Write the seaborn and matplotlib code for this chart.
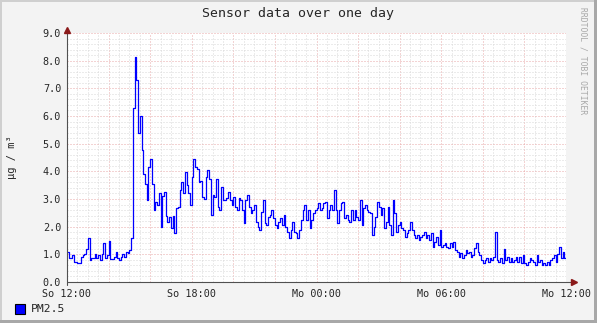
import numpy as np
import pandas as pd
import matplotlib
matplotlib.use("Agg")
import matplotlib.pyplot as plt
import seaborn as sns
from matplotlib.patches import Rectangle
from matplotlib.ticker import MultipleLocator, FormatStrFormatter

# PM2.5 in ug/m3, one value every 5 minutes from Sunday 12:00
pm25_a = [1.1, 0.85, 0.85, 0.97, 0.73, 0.72, 0.68, 0.67, 0.9, 0.97, 1.03, 1.2, 1.58,
          0.8, 0.85, 0.85, 1.03, 0.85, 0.97, 0.8, 1.03, 1.4, 0.85, 0.97, 1.5, 0.82,
          0.82, 0.9, 1.1, 0.85, 0.8, 0.9, 1.03, 0.9, 1.1, 1.06, 1.15]
pm25_b = [1.6, 6.3, 8.15, 7.3, 5.4, 6.0, 4.77, 3.9, 3.56, 2.96, 4.16, 4.46, 3.56,
          2.6, 2.9, 2.8, 3.2, 2.0, 3.1, 3.26, 2.4, 2.18, 2.36, 1.94, 2.4, 1.76, 2.66]
pm25_c = [2.72, 3.32, 3.6, 3.2, 3.98, 3.5, 3.2, 2.78, 3.8, 4.46, 4.16, 4.1, 3.6,
          3.65, 3.08, 3.0, 3.8, 4.04, 3.74, 2.42, 3.14, 3.08, 3.74, 2.72, 2.6, 3.44,
          2.96, 2.96, 3.02, 3.26, 2.96, 2.78, 3.08, 2.72, 2.6, 3.02, 2.96, 2.6, 2.12,
          2.96, 3.14, 2.72, 2.48, 2.6]
pm25_d = [2.78, 2.18, 2.0, 1.88, 2.54, 2.96, 2.12, 2.06, 2.36, 2.42, 2.6, 2.3, 2.06,
          1.94, 2.18, 2.3, 2.06, 2.42, 2.0, 1.82, 1.58, 1.88, 2.18, 1.82, 1.76, 1.58,
          1.88, 2.24, 2.6, 2.78, 2.24, 2.6, 1.94, 2.24, 2.48, 2.6, 2.66, 2.84, 2.6,
          2.66, 2.84, 2.9, 2.3]
pm25_e = [2.6, 2.78, 2.6, 3.32, 2.6, 2.12, 2.6, 2.84, 2.9, 2.3, 2.42, 2.24, 2.18,
          2.6, 2.24, 2.6, 2.36, 2.24, 2.96, 2.06, 2.66, 2.78, 2.6, 2.54, 2.48, 1.7,
          2.0, 2.36, 2.9, 2.72, 2.42, 2.66, 1.94, 2.18, 2.72, 2.06, 1.7, 2.96, 2.48,
          1.82, 2.06, 2.18, 1.94]
pm25_f = [1.88, 1.64, 1.76, 1.88, 2.18, 1.88, 1.7, 1.58, 1.7, 1.52, 1.64, 1.7, 1.82,
          1.58, 1.7, 1.52, 1.76, 1.28, 1.46, 1.64, 1.34, 1.88, 1.28, 1.34, 1.4, 1.28,
          1.22, 1.4, 1.28, 1.46, 1.16, 1.1, 0.91, 1.04, 0.85, 0.97, 1.16, 1.04, 1.1,
          0.91, 0.97, 1.22, 1.4, 1.1, 0.97, 0.8]
pm25_g = [0.67, 0.79, 0.85, 0.73, 0.85, 0.79, 0.9, 1.8, 0.79, 0.73, 0.85, 0.67, 1.2,
          0.79, 0.9, 0.73, 0.85, 0.73, 0.79, 0.9, 0.73, 0.9, 0.67, 0.97, 0.67, 0.61,
          0.73, 0.85, 0.79, 0.73, 0.61, 0.97, 0.73, 0.79, 0.61, 0.67, 0.61, 0.73,
          0.61, 0.79, 0.85, 0.97, 0.73, 1.03, 1.28, 0.85, 1.1, 0.85, 0.89]
pm25 = pm25_a + pm25_b + pm25_c + pm25_d + pm25_e + pm25_f + pm25_g
hours = np.arange(len(pm25)) * 5 / 60

day_ticks = [0, 6, 12, 18, 24]
day_labels = ["So 12:00", "So 18:00", "Mo 00:00", "Mo 06:00", "Mo 12:00"]

W, H = 597, 323
sns.set_style("white")
plt.rcParams["font.family"] = ["DejaVu Sans Mono"]

fig = plt.figure(figsize=(W / 100, H / 100), dpi=100)
fig.patch.set_facecolor("#F3F3F3")
ax = fig.add_axes([67 / W, (H - 282) / H, 499 / W, 249 / H])
ax.set_facecolor("white")

df = pd.DataFrame({"hours": hours, "pm25": pm25})
sns.lineplot(data=df, x="hours", y="pm25", ax=ax, estimator=None, color="#0000FF",
             lw=0.9, drawstyle="steps-post", zorder=5)

ax.set_xlim(0, 24)
ax.set_ylim(0, 9)
ax.xaxis.set_major_locator(MultipleLocator(2))
ax.xaxis.set_minor_locator(MultipleLocator(0.5))
ax.set_xticklabels([day_labels[day_ticks.index(t)] if t in day_ticks else ""
                    for t in ax.get_xticks()])
ax.yaxis.set_major_locator(MultipleLocator(1))
ax.yaxis.set_minor_locator(MultipleLocator(0.2))
ax.yaxis.set_major_formatter(FormatStrFormatter("%.1f"))
ax.set_xlim(0, 24)
ax.set_ylim(0, 9)
ax.set_xlabel("")
ax.set_ylabel("")

dots = (0, (1, 2))
ax.grid(which="minor", color="#D9D9D9", lw=0.72, linestyle=dots)
ax.grid(which="major", color="#E9A9A9", lw=0.72, linestyle=dots)
ax.tick_params(which="major", direction="out", length=2.2, width=0.72,
               color="#D07070", labelsize=7.3, pad=2)
ax.tick_params(which="minor", direction="out", length=1.5, width=0.72, color="#BBBBBB")
ax.tick_params(axis="x", which="major", pad=3)
for s in ax.spines.values():
    s.set_visible(False)

# axis lines with arrows
ax.plot([0, 1.012], [0, 0], transform=ax.transAxes, color="#505050", lw=0.8,
        clip_on=False, zorder=6)
ax.plot([0, 0], [-0.012, 1.0], transform=ax.transAxes, color="#505050", lw=0.8,
        clip_on=False, zorder=6)
ax.plot([1.016], [0], transform=ax.transAxes, marker=">", ms=5, color="#8B1A1A",
        clip_on=False, zorder=7)
ax.plot([0], [1.012], transform=ax.transAxes, marker="^", ms=5, color="#8B1A1A",
        clip_on=False, zorder=7)

fig.text(298 / W, 1 - 14 / H, "Sensor data over one day", ha="center", va="center",
         fontsize=9.5)
fig.text(12 / W, 1 - 157 / H, "µg / m³", rotation=90, ha="center", va="center",
         fontsize=7.5)
fig.text(583.5 / W, 1 - 7 / H, "RRDTOOL / TOBI OETIKER", rotation=270, ha="center",
         va="top", fontsize=5.8, color="#A8A8A8")

# legend
fig.patches.append(Rectangle((15 / W, 1 - 314 / H), 10 / W, 10 / H, transform=fig.transFigure,
                             facecolor="#0000FF", edgecolor="black", lw=0.8))
fig.text(31 / W, 1 - 309.5 / H, "PM2.5", ha="left", va="center", fontsize=8.2)

# frame shading
fig.patches.append(Rectangle((0, 1 - 2 / H), 1, 2 / H, transform=fig.transFigure,
                             facecolor="#CFCFCF", lw=0))
fig.patches.append(Rectangle((0, 0), 2 / W, 1, transform=fig.transFigure,
                             facecolor="#CFCFCF", lw=0))
fig.patches.append(Rectangle((1 - 3 / W, 0), 3 / W, 1, transform=fig.transFigure,
                             facecolor="#A8A8A8", lw=0))
fig.patches.append(Rectangle((0, 0), 1, 3 / H, transform=fig.transFigure,
                             facecolor="#A8A8A8", lw=0))

fig.savefig("out.png", dpi=100, facecolor=fig.get_facecolor())
